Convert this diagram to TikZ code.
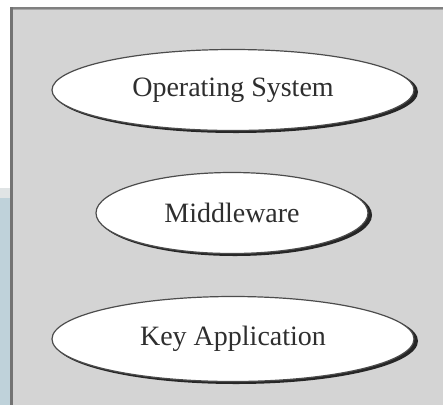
\documentclass[tikz,border=0pt]{standalone}
\usepackage{fontspec}
\setmainfont{Liberation Serif}
\usetikzlibrary{shapes.geometric}
\newcommand{\lowered}[1]{\raisebox{-3pt}{#1}}
\begin{document}
\begin{tikzpicture}[x=0.75pt,y=-0.75pt,
  layer/.style={ellipse,draw=black!70,line width=0.9pt,fill=white,inner sep=0pt,
    font=\fontsize{21}{24}\selectfont,text=black!82},
  shadowcol/.style={fill=black!85}]
\useasboundingbox (0,0) rectangle (443,405);
\fill[white] (0,0) rectangle (443,405);
% left blue strip
\fill[cyan!10!gray!25!white] (0,188) rectangle (10,198);
\fill[cyan!30!gray!45!white] (0,198) rectangle (10,405);
% panel
\fill[black!17] (11,8) rectangle (443,405);
\fill[black!35] (11,7) rectangle (443,10);
\fill[black!50] (11,7) rectangle (443,8.5);
\fill[black!55] (10,7) rectangle (13,405);
% shadows
\fill[shadowcol] (236,92) ellipse [x radius=182,y radius=41];
\fill[shadowcol] (235,215) ellipse [x radius=137,y radius=41];
\fill[shadowcol] (236,341) ellipse [x radius=182,y radius=43];
% ellipses
\node[layer,minimum width=271.5pt,minimum height=60.75pt] (os) at (233,90) {\lowered{Operating System}};
\node[layer,minimum width=204pt,minimum height=60.75pt] (mw) at (232,213) {\lowered{Middleware}};
\node[layer,minimum width=271.5pt,minimum height=63.75pt] (ka) at (233,339) {\lowered{Key Application}};
\end{tikzpicture}
\end{document}
